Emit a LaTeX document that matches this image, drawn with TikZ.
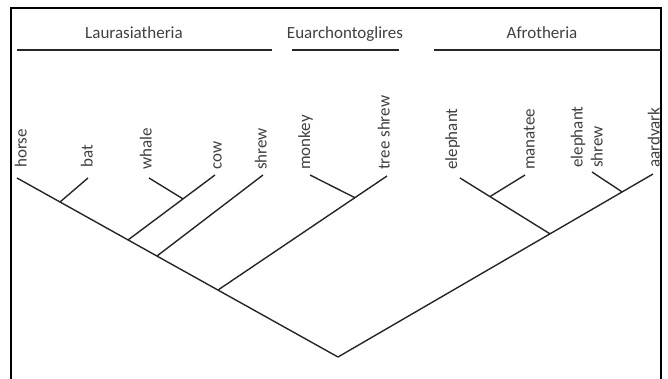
\documentclass[tikz,border=0pt]{standalone}
\usepackage{fontspec}
\setmainfont{Carlito}
\usetikzlibrary{calc}

\begin{document}
\begin{tikzpicture}[x=1pt,y=-1pt,
  branch/.style={draw=black!85,line width=1.4pt},
  cladebar/.style={draw=black!85,line width=1.8pt},
  taxon/.style={rotate=90,anchor=south west,inner sep=0pt,text=black!75,
    font=\fontsize{17}{20}\selectfont,align=left},
  clade/.style={anchor=base,inner sep=0pt,text=black!75,font=\fontsize{17}{20}\selectfont}]
  \useasboundingbox (0,0) rectangle (668,379);
  % frame
  \draw[line width=2.2pt] (11,385) -- (11,8) -- (661,8) -- (661,385);
  % clade headings
  \node[clade] (laur) at (134,39) {Laurasiatheria};
  \node[clade] (euar) at (345,39) {Euarchontoglires};
  \node[clade] (afro) at (542,39) {Afrotheria};
  \coordinate (laur-a) at (17,50);  \coordinate (laur-b) at (272,50);
  \coordinate (euar-a) at (292,50); \coordinate (euar-b) at (399,50);
  \coordinate (afro-a) at (434,50); \coordinate (afro-b) at (661,50);
  \draw[cladebar] (laur-a) -- (laur-b);
  \draw[cladebar] (euar-a) -- (euar-b);
  \draw[cladebar] (afro-a) -- (afro-b);
  % taxa
  \node[taxon] (horse) at (27,168) {horse};
  \node[taxon] (bat) at (93,168) {bat};
  \node[taxon] (whale) at (152,170) {whale};
  \node[taxon] (cow) at (222,170) {cow};
  \node[taxon] (shrew) at (267,170) {shrew};
  \node[taxon] (monkey) at (313,170) {monkey};
  \node[taxon] (tshrew) at (390,170) {tree shrew};
  \node[taxon] (eleph) at (460,170) {elephant};
  \node[taxon] (manat) at (535,170) {manatee};
  \node[taxon] (eshrew) at (603,168) {elephant\\shrew};
  \node[taxon] (aard) at (660,168) {aardvark};
  % branch tips
  \coordinate (horse-t) at (17,178);
  \coordinate (bat-t) at (88,178);
  \coordinate (whale-t) at (149,178);
  \coordinate (cow-t) at (215,175);
  \coordinate (shrew-t) at (263,175);
  \coordinate (monkey-t) at (310,175);
  \coordinate (tshrew-t) at (387,176);
  \coordinate (eleph-t) at (460,178);
  \coordinate (manat-t) at (525,175);
  \coordinate (eshrew-t) at (592,172);
  \coordinate (aard-t) at (653,174);
  % inner nodes
  \coordinate (root) at (338,357);
  \coordinate (hb) at ($(horse-t)!0.134!(root)$);
  \coordinate (lw) at ($(horse-t)!0.346!(root)$);
  \coordinate (ls) at ($(horse-t)!0.436!(root)$);
  \coordinate (eu) at ($(horse-t)!0.626!(root)$);
  \coordinate (wc) at ($(lw)!0.632!(cow-t)$);
  \coordinate (mt) at ($(eu)!0.81!(tshrew-t)$);
  \coordinate (af) at ($(root)!0.673!(aard-t)$);
  \coordinate (ea) at ($(root)!0.902!(aard-t)$);
  \coordinate (em) at ($(eleph-t)!0.333!(af)$);
  % tree
  \draw[branch] (horse-t) -- (root);
  \draw[branch] (hb) -- (bat-t);
  \draw[branch] (lw) -- (cow-t);
  \draw[branch] (whale-t) -- (wc);
  \draw[branch] (ls) -- (shrew-t);
  \draw[branch] (eu) -- (tshrew-t);
  \draw[branch] (monkey-t) -- (mt);
  \draw[branch] (root) -- (aard-t);
  \draw[branch] (eleph-t) -- (af);
  \draw[branch] (em) -- (manat-t);
  \draw[branch] (eshrew-t) -- (ea);
\end{tikzpicture}
\end{document}
